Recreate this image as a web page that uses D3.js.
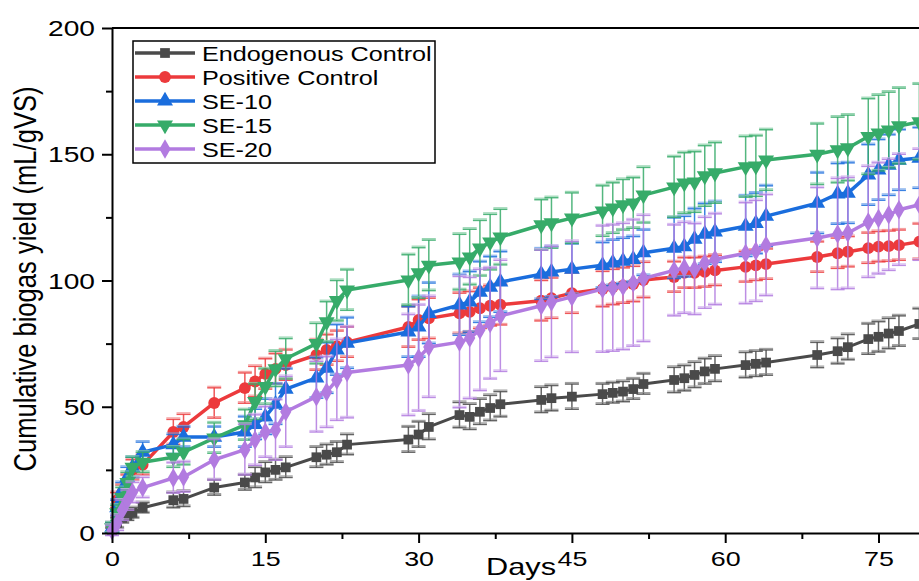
<!DOCTYPE html>
<html>
<head>
<meta charset="utf-8">
<script src="https://cdn.jsdelivr.net/npm/d3@7"></script>
<style>
  body { margin: 0; background: #fff; }
  svg { display: block; font-family: Arial, "Liberation Sans", sans-serif; }
</style>
</head>
<body>
<div id="chart"></div>
<script>
let w = 919;
let h = 581;

// sampling days
let days = [0, 0.5, 1, 1.5, 2, 3, 6, 7, 10, 13, 14, 15, 16, 17, 20, 21, 22, 23, 29, 30, 31,
  34, 35, 36, 37, 38, 42, 43, 45, 48, 49, 50, 51, 52, 55, 56, 57, 58, 59, 62, 63, 64,
  69, 71, 72, 74, 75, 76, 77, 79];

let endogenous = [1, 4, 6, 7, 8, 10, 13, 13.5, 18, 20, 22, 24, 25, 26, 30, 31, 32, 35, 37, 39, 42,
  46.7, 46, 48, 49.5, 51, 52.7, 53.4, 54, 55, 55.5, 56, 57, 59, 60.6, 61.3, 62.6, 64, 65, 66.5, 67, 67.5,
  70.5, 72, 73.6, 76.8, 77.7, 79, 80, 82.8];
let endogenousErr = [1, 2, 2, 2, 2, 2, 3, 3, 3, 3, 4, 4, 4, 4, 4, 4, 4, 4, 5, 5, 5, 5, 5, 5, 5, 5,
  5, 5, 5, 4, 4, 4, 4, 4, 5, 5, 5, 5, 5, 5, 5, 5, 5, 5, 5, 6, 6, 6, 6, 6];

let positive = [2, 13, 16, 20, 25, 27, 40, 42, 51.5, 57.4, 60, 63, 65, 66.5, 70.5, 72.5, 74, 75.6, 81.6, 84.4, 85,
  87, 87.6, 89, 90, 90.4, 92, 93, 95, 96.6, 97.4, 98, 98.6, 100.2, 101.4, 103, 103, 103.4, 104, 105.4, 106, 106.5,
  109.3, 110.8, 111.4, 112.8, 113.4, 113.6, 114, 115.4];
let positiveErr = [2, 3, 3, 3, 4, 4, 5, 5, 6, 6, 6, 6, 6, 6, 6, 6, 6, 6, 8, 8, 8, 8, 8, 8, 8, 8,
  8, 8, 8, 7, 7, 7, 7, 7, 6, 6, 6, 6, 6, 6, 6, 6, 6, 6, 6, 6, 6, 6, 6, 7];

let se10 = [2, 10, 17, 22, 26, 32, 35, 38, 38, 40, 43, 46, 51, 57, 61.4, 65.3, 72.5, 75.2, 79.6, 81.6, 87,
  90.3, 91.5, 95.4, 97.4, 99.4, 102.5, 103.4, 104.5, 106, 107, 107.7, 108.4, 111, 112.8, 113.4, 116.4, 118.4, 119.2, 121.5, 122.6, 125.5,
  130.6, 134.3, 134.6, 141.8, 143.8, 145.7, 147.7, 148.5];
let se10Err = [2, 3, 3, 4, 4, 4, 4, 4, 4, 6, 6, 7, 8, 8, 8, 10, 10, 10, 10, 12, 12, 12, 12, 12, 12, 12,
  10, 10, 10, 9, 9, 9, 9, 9, 12, 12, 12, 12, 12, 12, 12, 12, 12, 12, 12, 12, 12, 12, 12, 12];

let se15 = [2, 8, 14, 20, 26, 28, 30, 32, 37.6, 42.8, 52, 58, 65, 69, 75, 83.6, 92, 96.2, 100.2, 103, 106,
  107.3, 109.3, 112.8, 115.2, 117.2, 122, 122.8, 124.7, 127.5, 128.7, 130, 130.7, 133.8, 137, 138.6, 139, 141.4, 142.6, 145, 145.3, 147.7,
  150, 151.7, 152.5, 157, 158.4, 159.6, 161.2, 162.8];
let se15Err = [2, 3, 4, 4, 4, 4, 4, 5, 6, 6, 7, 7, 7, 8, 8, 8, 8, 8, 10, 10, 10, 11, 11, 11, 11, 11,
  10, 10, 10, 10, 10, 10, 10, 11, 12, 12, 12, 12, 12, 12, 12, 12, 12, 13, 13, 15, 15, 15, 15, 15];

let se20 = [1, 4, 9, 13, 16, 18, 21.8, 22.2, 29, 33, 36.8, 40, 40.8, 48, 54, 55.8, 60.6, 63.6, 66.5, 69.3, 73.7,
  75.6, 77.2, 80.4, 83, 86, 90, 91.5, 93.5, 96.6, 97, 97.6, 99, 100.8, 104, 105, 104.5, 107, 108.4, 110.8, 111.7, 114,
  116.8, 118.4, 118.8, 123.2, 124.6, 126, 128, 130];
let se20Err = [2, 3, 4, 4, 4, 4, 6, 6, 8, 10, 10, 10, 12, 14, 14, 14, 16, 18, 20, 21, 20, 26, 24, 24, 22, 22,
  22, 22, 22, 25, 25, 25, 25, 25, 18, 18, 18, 18, 18, 20, 20, 20, 20, 22, 22, 22, 22, 22, 22, 22];

let seriesNames = ["Endogenous Control", "Positive Control", "SE-10", "SE-15", "SE-20"];
let seriesValues = [endogenous, positive, se10, se15, se20];
let seriesErrors = [endogenousErr, positiveErr, se10Err, se15Err, se20Err];
let colors = ["#4a4a4a", "#ec3a3c", "#1a6ddd", "#36ab69", "#b27be0"];
let lightColors = ["#8a8a8a", "#f38b8c", "#6fa3ea", "#7fcca0", "#d2b0ee"];

let xTicks = [0, 15, 30, 45, 60, 75];
let xMinor = [7.5, 22.5, 37.5, 52.5, 67.5, 82.5];
let yTicks = [0, 50, 100, 150, 200];
let yMinor = [25, 75, 125, 175];

let stretch = 1.28; // text in the original is stretched sideways

let viz = d3.select("#chart").append("svg")
  .attr("width", w)
  .attr("height", h);

// 10.22 px per day, starting at x=112
let xScale = d3.scaleLinear().domain([0, 85]).range([112, 112 + 85 * 10.22]);
let yScale = d3.scaleLinear().domain([0, 200]).range([533, 28]);

// frame top line
viz.append("line")
  .attr("x1", xScale(0)).attr("x2", w)
  .attr("y1", yScale(200)).attr("y2", yScale(200))
  .attr("stroke", "#000").attr("stroke-width", 2);

// data
let sym = [d3.symbolSquare, d3.symbolCircle, d3.symbolTriangle, d3.symbolTriangle, d3.symbolDiamond];
let symSize = [95, 110, 110, 110, 110];
let symRot = [0, 0, 0, 180, 0];

let line = d3.line()
  .x(function(d){ return xScale(d[0]); })
  .y(function(d){ return yScale(d[1]); });

seriesValues.forEach(function(vals, s){
  let pts = days.map(function(d, i){ return [d, vals[i], seriesErrors[s][i]]; });
  let g = viz.append("g").attr("class", "series");

  // error bars
  let eb = g.selectAll(".eb").data(pts).enter().append("g").attr("class", "eb");
  eb.append("line")
    .attr("x1", function(d){ return xScale(d[0]); })
    .attr("x2", function(d){ return xScale(d[0]); })
    .attr("y1", function(d){ return yScale(d[1] - d[2]); })
    .attr("y2", function(d){ return yScale(d[1] + d[2]); })
    .attr("stroke", colors[s]).attr("stroke-width", 1.5).attr("opacity", 0.85);
  [1, -1].forEach(function(sign){
    eb.append("line")
      .attr("x1", function(d){ return xScale(d[0]) - 7; })
      .attr("x2", function(d){ return xScale(d[0]) + 7; })
      .attr("y1", function(d){ return yScale(d[1] + sign * d[2]); })
      .attr("y2", function(d){ return yScale(d[1] + sign * d[2]); })
      .attr("stroke", colors[s]).attr("stroke-width", 1.5).attr("opacity", 0.85);
    eb.append("line")
      .attr("x1", function(d){ return xScale(d[0]) - 7; })
      .attr("x2", function(d){ return xScale(d[0]) + 7; })
      .attr("y1", function(d){ return yScale(d[1] + sign * d[2]) - 1.5; })
      .attr("y2", function(d){ return yScale(d[1] + sign * d[2]) - 1.5; })
      .attr("stroke", lightColors[s]).attr("stroke-width", 1.2).attr("opacity", 0.8);
  });

  g.append("path")
    .datum(pts)
    .attr("d", line)
    .attr("fill", "none")
    .attr("stroke", colors[s])
    .attr("stroke-width", s == 0 ? 3 : 3.5)
    .attr("stroke-linejoin", "round");

  g.selectAll(".pt").data(pts).enter().append("path")
    .attr("class", "pt")
    .attr("d", d3.symbol().type(sym[s]).size(symSize[s]))
    .attr("transform", function(d){
      return "translate(" + xScale(d[0]) + "," + yScale(d[1]) + ") rotate(" + symRot[s] + ")";
    })
    .attr("fill", colors[s]);
});

// axes
let xAxis = viz.append("g").attr("transform", "translate(0,533)")
  .call(d3.axisBottom(xScale).tickValues(xTicks).tickSize(10).tickSizeOuter(0).tickFormat(d3.format("d")));
viz.append("g").attr("transform", "translate(0,533)")
  .call(d3.axisBottom(xScale).tickValues(xMinor).tickSize(6).tickSizeOuter(0).tickFormat(""))
  .select(".domain").remove();
let yAxis = viz.append("g").attr("transform", "translate(112,0)")
  .call(d3.axisLeft(yScale).tickValues(yTicks).tickSize(10).tickSizeOuter(0).tickFormat(d3.format("d")));
viz.append("g").attr("transform", "translate(112,0)")
  .call(d3.axisLeft(yScale).tickValues(yMinor).tickSize(6).tickSizeOuter(0).tickFormat(""))
  .select(".domain").remove();

viz.selectAll(".domain").attr("stroke", "#000").attr("stroke-width", 2);
viz.selectAll(".tick line").attr("stroke", "#000").attr("stroke-width", 2);

xAxis.selectAll("text")
  .attr("font-size", 21).attr("fill", "#000")
  .attr("y", 0).attr("dy", 0)
  .attr("transform", "translate(0,33) scale(" + stretch + ",1)");
yAxis.selectAll("text")
  .attr("font-size", 22).attr("fill", "#000")
  .attr("x", 0).attr("dy", "0.35em")
  .attr("transform", "translate(-17,0) scale(" + stretch + ",1)");

// axis titles
viz.append("text")
  .attr("transform", "translate(521,575) scale(" + stretch + ",1)")
  .attr("text-anchor", "middle")
  .attr("font-size", 24)
  .text("Days");

viz.append("text")
  .attr("transform", "translate(36,279) scale(" + stretch + ",1) rotate(-90)")
  .attr("text-anchor", "middle")
  .attr("font-size", 24)
  .attr("textLength", 385)
  .attr("lengthAdjust", "spacingAndGlyphs")
  .text("Cumulative biogas yield (mL/gVS)");

// legend
let legend = viz.append("g").attr("class", "legend");
legend.append("rect")
  .attr("x", 133).attr("y", 41).attr("width", 302).attr("height", 122)
  .attr("fill", "#fff").attr("stroke", "#000").attr("stroke-width", 1.5);

let legendY = d3.scaleLinear().domain([0, 4]).range([53, 149]);
seriesNames.forEach(function(name, s){
  let y = legendY(s);
  legend.append("line")
    .attr("x1", 135).attr("x2", 195).attr("y1", y).attr("y2", y)
    .attr("stroke", colors[s]).attr("stroke-width", 3.5);
  legend.append("path")
    .attr("d", d3.symbol().type(sym[s]).size(symSize[s]))
    .attr("transform", "translate(165," + y + ") rotate(" + symRot[s] + ")")
    .attr("fill", colors[s]);
  legend.append("text")
    .attr("transform", "translate(202," + (y + 7.5) + ") scale(1.2,1)")
    .attr("font-size", 21)
    .text(name);
});
</script>
</body>
</html>
